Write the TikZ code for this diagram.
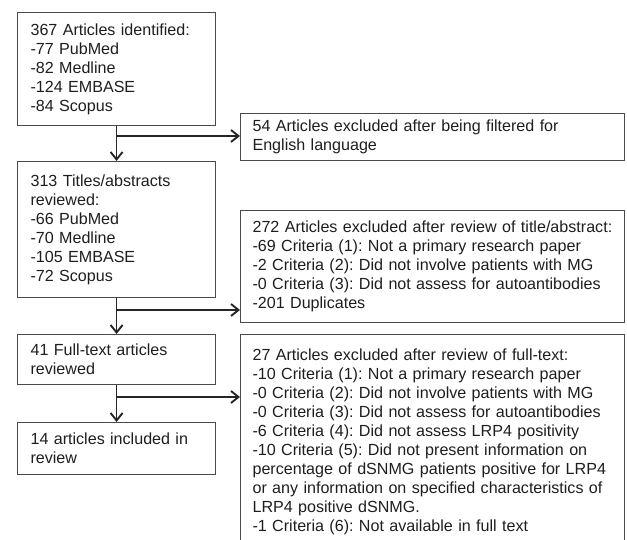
\documentclass[tikz,border=0pt]{standalone}
\usepackage{fontspec}
\setmainfont{Liberation Sans}
\usetikzlibrary{arrows.meta}
\definecolor{boxgray}{HTML}{4A4A4A}
\definecolor{arrowc}{HTML}{262626}
\definecolor{txt}{HTML}{1E1E1E}
\frenchspacing
\hyphenpenalty=10000
\exhyphenpenalty=10000
\hbadness=10000
\hfuzz=20pt
\begin{document}
\begin{tikzpicture}[x=1pt,y=-1pt,
  box/.style={draw=boxgray, line width=1.1pt, anchor=north west, align=left,
    inner ysep=0pt, text=txt, font={\fontsize{16.1}{19}\selectfont}},
  lbox/.style={box, inner xsep=13pt, text width=172pt},
  rbox/.style={box, inner xsep=12pt, text width=360pt},
  arr/.style={draw=arrowc, line width=1.3pt, -{Straight Barb[length=7.5pt,width=12pt,line width=1.9pt]}}]
\useasboundingbox (0,0) rectangle (627,540);
\node[lbox, minimum height=113pt] (b1) at (17,12)
  {367 Articles identified:\\-77 PubMed\\-82 Medline\\-124 EMBASE\\-84 Scopus};
\node[rbox, minimum height=47pt] (b54) at (240,113)
  {54 Articles excluded after being filtered for\\English language};
\node[lbox, minimum height=136pt] (b2) at (17,161)
  {313 Titles/abstracts\\reviewed:\\-66 PubMed\\-70 Medline\\-105 EMBASE\\-72 Scopus};
\node[rbox, minimum height=112pt] (b272) at (240,210)
  {272 Articles excluded after review of title/abstract:\\-69 Criteria (1): Not a primary research paper\\-2 Criteria (2): Did not involve patients with MG\\-0 Criteria (3): Did not assess for autoantibodies\\-201 Duplicates};
\node[lbox, minimum height=50pt] (b3) at (17,334)
  {41 Full-text articles\\reviewed};
\node[rbox, minimum height=214pt] (b27) at (240,334)
  {27 Articles excluded after review of full-text:\\-10 Criteria (1): Not a primary research paper\\-0 Criteria (2): Did not involve patients with MG\\-0 Criteria (3): Did not assess for autoantibodies\\-6 Criteria (4): Did not assess LRP4 positivity\\-10 Criteria (5): Did not present information on\\percentage of dSNMG patients positive for LRP4\\or any information on specified characteristics of\\LRP4 positive dSNMG.\\-1 Criteria (6): Not available in full text};
\node[lbox, minimum height=52pt] (b4) at (17,422)
  {14 articles included in\\review};
\coordinate (j1) at (116,136);
\coordinate (j2) at (116,310);
\coordinate (j3) at (116,397);
\draw[arr] (b1.south) -- (b2.north);
\draw[arr] (j1) -- (b54.west |- j1);
\draw[arr] (b2.south) -- (b3.north);
\draw[arr] (j2) -- (b272.west |- j2);
\draw[arr] (b3.south) -- (b4.north);
\draw[arr] (j3) -- (b27.west |- j3);
\end{tikzpicture}
\end{document}
